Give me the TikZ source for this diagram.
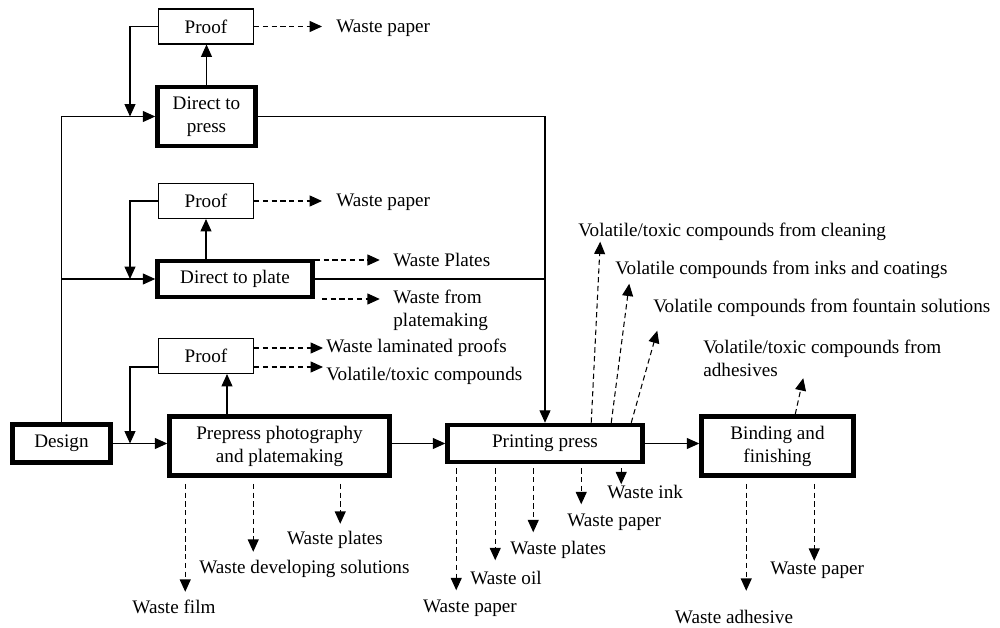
\documentclass[tikz,border=0pt]{standalone}
\usepackage{fontspec}
\setmainfont{Liberation Serif}
\usetikzlibrary{arrows.meta,calc}

\begin{document}
\begin{tikzpicture}[x=0.02cm,y=-0.02cm,>={Triangle[length=7pt,width=6.2pt]},
  font=\fontsize{10.9}{13}\selectfont,
  box/.style={draw=black,line width=.6pt,align=center,inner sep=0pt,minimum width=1.9cm,minimum height=.7cm},
  mainbox/.style={box,line width=2.6pt},
  lbl/.style={inner sep=0pt,align=left,anchor=west},
  arr/.style={->,line width=.6pt},
  warr/.style={->,line width=.6pt,dash pattern=on 3pt off 2pt}]
\useasboundingbox (0,0) rectangle (1000,628);
% process boxes
\node[mainbox,minimum width=1.96cm,minimum height=.76cm] (design) at (61.5,443.5) {Design};
\node[mainbox,minimum width=1.96cm,minimum height=1.18cm] (press) at (206.5,116.5) {Direct to\\press};
\node[mainbox,minimum width=3.1cm,minimum height=.72cm] (plate) at (235,279) {Direct to plate};
\node[mainbox,minimum width=4.4cm,minimum height=1.18cm] (prepress) at (279.5,446) {Prepress photography\\and platemaking};
\node[mainbox,minimum width=3.9cm,minimum height=.74cm] (printing) at (545,443.5) {Printing press};
\node[mainbox,minimum width=3.04cm,minimum height=1.18cm] (binding) at (777.5,446) {Binding and\\finishing};
\node[box] (proofA) at (206,26.5) {Proof};
\node[box] (proofB) at (206,201) {Proof};
\node[box] (proofC) at (206,356) {Proof};
% main flow
\draw[arr] (design.north) |- (press.west);
\draw[arr] (design.north) |- (plate.west);
\draw[arr] (design.east) -- (prepress.west |- design.east);
\draw[arr] (prepress.east |- printing.west) -- (printing.west);
\draw[arr] (printing.east) -- (binding.west |- printing.east);
\draw[arr] (press.east) -| (printing.north);
\draw[line width=.6pt] (plate.east) -- (plate.east -| printing.north);
% proofs
\draw[arr] (press.north) -- (press.north |- proofA.south);
\draw[arr] (proofB.south |- plate.north) -- (proofB.south);
\coordinate (cUp) at ($(proofC.south)+(21,0)$);
\draw[arr] (cUp |- prepress.north) -- (cUp);
\coordinate (jA) at (130,116.5);
\coordinate (jB) at (130,279);
\coordinate (jC) at (130,443.5);
\draw[arr] (proofA.west) -| (jA);
\draw[arr] (proofB.west) -| (jB);
\draw[arr] ($(proofC.west)+(0,11)$) -| (jC);
% wastes, prepress side
\draw[warr] (proofA.east) -- ++(68,0) coordinate (tA);
\node[lbl] (wpA) at (336,28) {Waste paper};
\draw[warr] (proofB.east) -- ++(68,0) coordinate (tB);
\node[lbl] (wpB) at (336,202) {Waste paper};
\draw[warr] ($(plate.east)+(0,-19)$) -- ++(65,0) coordinate (tP1);
\node[lbl] (wplA) at (393,260) {Waste Plates};
\draw[warr] ($(plate.east)+(7,20)$) -- ++(58,0) coordinate (tP2);
\node[lbl] (wfp) at (393,310.5) {Waste from\\platemaking};
\draw[warr] ($(proofC.east)+(0,-8)$) -- ++(69,0) coordinate (tC1);
\node[lbl] (wlp) at (326,348) {Waste laminated proofs};
\draw[warr] ($(proofC.east)+(0,11)$) -- ++(69,0) coordinate (tC2);
\node[lbl] (vtc) at (326,376) {Volatile/toxic compounds};
\draw[warr] ($(prepress.south west)+(18,6)$) -- ++(0,108) coordinate (tF);
\draw[warr] ($(prepress.south west)+(86,6)$) -- ++(0,68) coordinate (tD);
\draw[warr] ($(prepress.south west)+(173,6)$) -- ++(0,40) coordinate (tQ);
\node[inner sep=0pt] (wpl) at (335,540) {Waste plates};
\node[lbl] (wds) at (199,569) {Waste developing solutions};
\node[inner sep=0pt] (wfi) at (174,607) {Waste film};
% wastes, printing press
\draw[warr] ($(printing.south west)+(11,4)$) -- ++(0,122) coordinate (tR1);
\draw[warr] ($(printing.south west)+(50,4)$) -- ++(0,92) coordinate (tR2);
\draw[warr] ($(printing.south west)+(88,4)$) -- ++(0,64) coordinate (tR3);
\draw[warr] ($(printing.south west)+(136,4)$) -- ++(0,36) coordinate (tR4);
\draw[warr] ($(printing.south west)+(176,4)$) -- ++(0,16) coordinate (tR5);
\node[lbl] (wink) at (607,492) {Waste ink};
\node[lbl] (wpR) at (567,522) {Waste paper};
\node[lbl] (wplR) at (510,550) {Waste plates};
\node[lbl] (woil) at (470,578) {Waste oil};
\node[inner sep=0pt] (wpR2) at (470,608) {Waste paper};
\draw[warr] ($(printing.north west)+(146,0)$) -- ++(9,-181) coordinate (tV1);
\draw[warr] ($(printing.north west)+(166,0)$) -- ++(18,-139) coordinate (tV2);
\draw[warr] ($(printing.north west)+(186,0)$) -- ++(26,-92) coordinate (tV3);
\node[lbl] (vclean) at (578,232) {Volatile/toxic compounds from cleaning};
\node[lbl] (vink) at (615,270) {Volatile compounds from inks and coatings};
\node[lbl] (vfount) at (653,308) {Volatile compounds from fountain solutions};
% wastes, binding
\draw[warr] ($(binding.north west)+(96,0)$) -- ++(8,-36) coordinate (tV4);
\node[lbl] (vadh) at (703,358.5) {Volatile/toxic compounds from\\adhesives};
\draw[warr] ($(binding.south west)+(47,6)$) -- ++(0,107) coordinate (tB1);
\draw[warr] ($(binding.south west)+(115,6)$) -- ++(0,77) coordinate (tB2);
\node[lbl] (wpB2) at (770,570) {Waste paper};
\node[inner sep=0pt] (wadh) at (734,617) {Waste adhesive};
\end{tikzpicture}
\end{document}
